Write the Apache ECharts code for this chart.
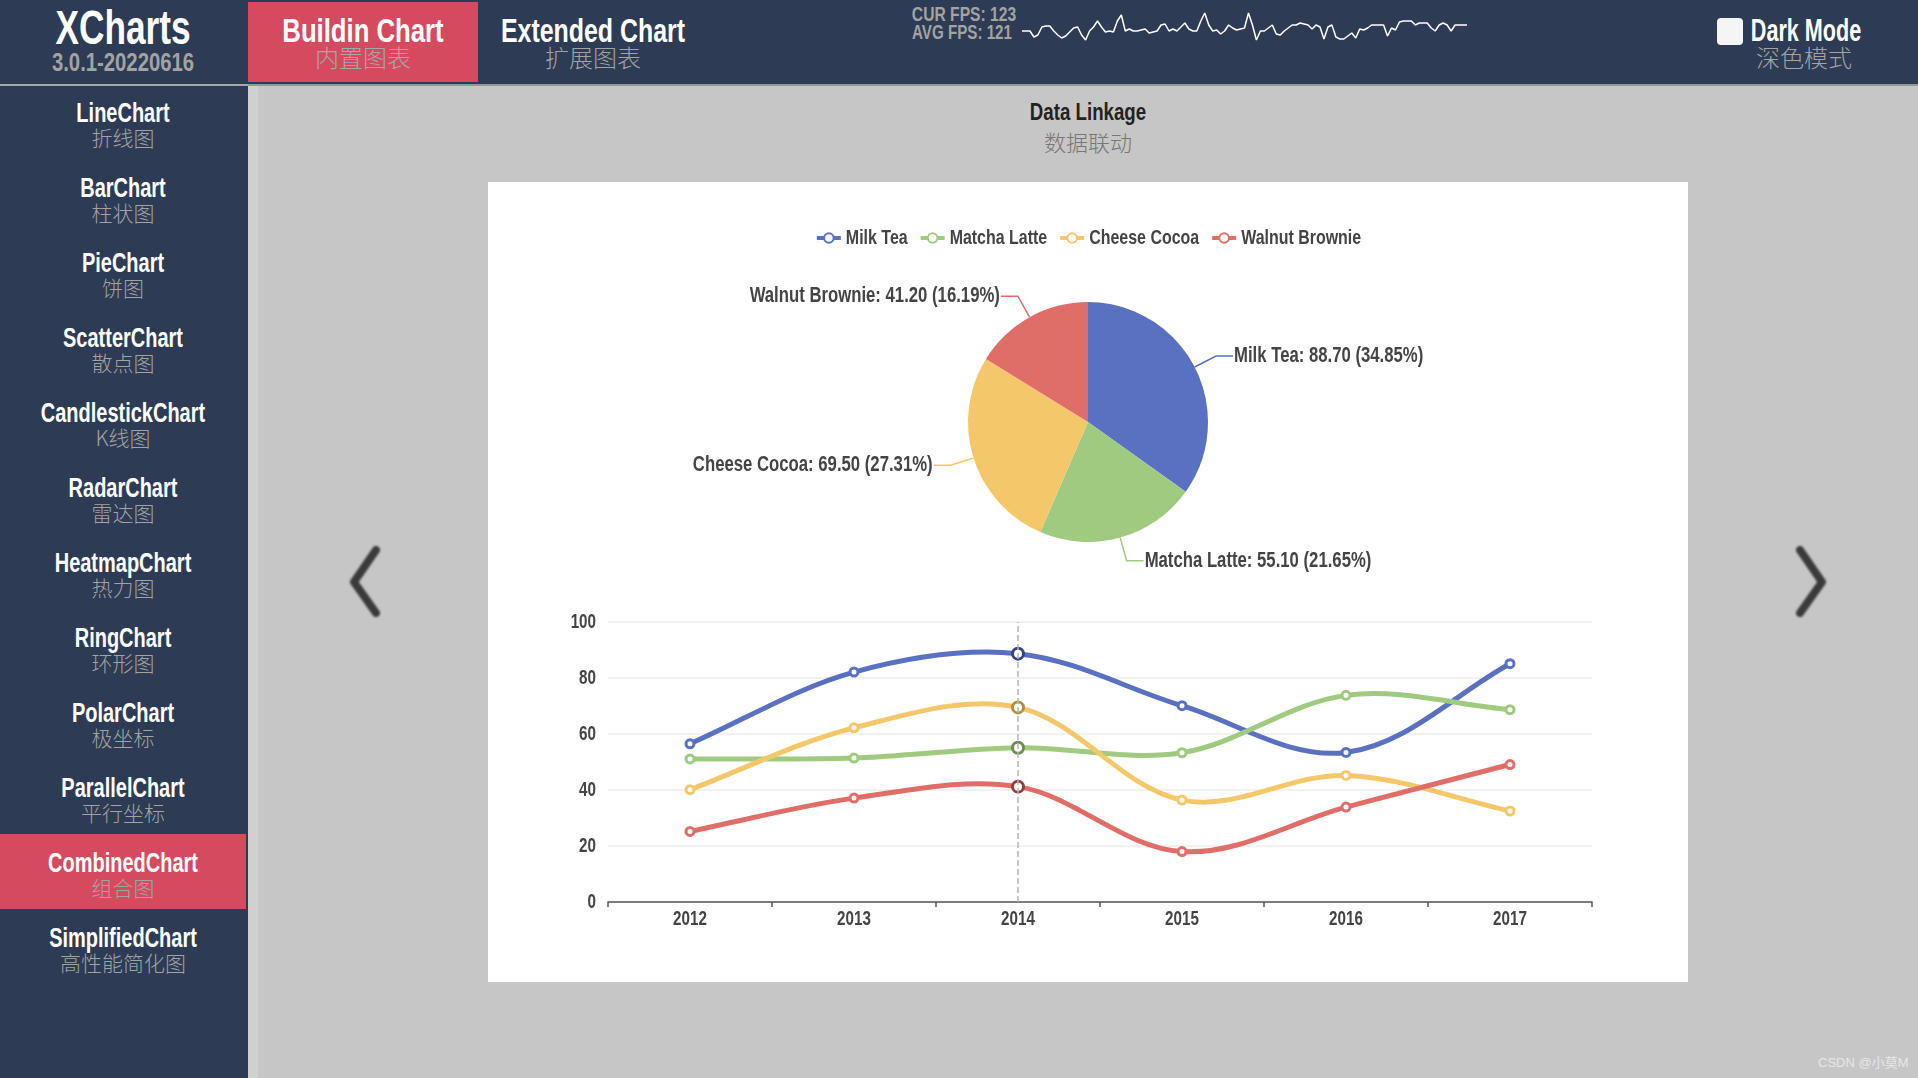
<!DOCTYPE html>
<html>
<head>
<meta charset="utf-8">
<title>XCharts</title>
<script src="https://cdn.jsdelivr.net/npm/echarts@6/dist/echarts.min.js"></script>
<style>
    html, body { margin: 0; padding: 0; width: 1918px; height: 1078px; overflow: hidden; background: #c6c6c6; }
    body { font-family: 'Liberation Sans', 'Noto Sans CJK SC', sans-serif; position: relative; }
    .abs { position: absolute; white-space: nowrap; line-height: 1; }
    .en { color: #fff; text-align: center; font-weight: bold; }
    .cn { color: #a3a3a3; font-family: 'Noto Sans CJK SC', sans-serif; font-weight: 300; text-align: center; }
    #header { position: absolute; left: 0; top: 0; width: 1918px; height: 84px; background: #2d3b54; border-bottom: 2px solid #8f97a5; }
    #logoRule { position: absolute; left: 0; top: 84px; width: 248px; height: 2px; background: #a2a7af; }
    #sidebar { position: absolute; left: 0; top: 86px; width: 248px; height: 992px; background: #2d3b54; }
    #strip { position: absolute; left: 248px; top: 86px; width: 10px; height: 992px; background: #d0d0d0; }
    #activeTab { position: absolute; left: 248px; top: 2px; width: 230px; height: 80px; background: #d64a60; }
    #activeItem { position: absolute; left: 0; top: 834px; width: 246px; height: 75px; background: #d64a60; }
    #panel { position: absolute; left: 488px; top: 182px; width: 1200px; height: 800px; background: #fff; }
    #fpsChart { position: absolute; left: 1022px; top: 8px; width: 445px; height: 40px; }
    #darkBox { position: absolute; left: 1717px; top: 18px; width: 26px; height: 27px; background: #f5f5f5; border-radius: 4px; }
    #mark { position: absolute; left: 1818px; top: 1052px; font: 13px 'Liberation Sans', 'Noto Sans CJK SC', sans-serif; color: #e6e6e6; white-space: nowrap; }
    svg.arrow { position: absolute; top: 530px; width: 60px; height: 100px; filter: blur(0.8px); }
</style>
</head>
<body>
<div id="header"></div>
<div id="logoRule"></div>
<div id="sidebar"></div>
<div id="strip"></div>
<div id="activeTab"></div>
<div id="activeItem"></div>
<div id="panel"></div>
<div id="fpsChart"></div>
<div id="darkBox"></div>
<div id="mark">CSDN @小莫M</div>
<svg class="arrow" style="left:335px" viewBox="0 0 60 100"><polyline points="41,20 19,52 41,83" fill="none" stroke="#3a3a3a" stroke-width="8" stroke-linecap="round" stroke-linejoin="round"/></svg>
<svg class="arrow" style="left:1780px" viewBox="0 0 60 100"><polyline points="20,20 42,52 20,83" fill="none" stroke="#3a3a3a" stroke-width="8" stroke-linecap="round" stroke-linejoin="round"/></svg>

<script>
    var years = ['2012', '2013', '2014', '2015', '2016', '2017'];
    var seriesNames = ['Milk Tea', 'Matcha Latte', 'Cheese Cocoa', 'Walnut Brownie'];
    var milkTea = [56.5, 82.1, 88.7, 70.1, 53.4, 85.1];
    var matchaLatte = [51.1, 51.4, 55.1, 53.3, 73.8, 68.7];
    var cheeseCocoa = [40.1, 62.2, 69.5, 36.4, 45.2, 32.5];
    var walnutBrownie = [25.2, 37.1, 41.2, 18, 33.9, 49.1];
    var linkedYear = '2014';
    var fpsHistory = [117, 117, 117, 111, 113, 121, 122, 122, 117, 113, 110, 112, 116, 120, 121, 113, 108, 117, 121, 127,
        121, 116, 117, 116, 127, 133, 117, 119, 117, 117, 118, 119, 115, 116, 117, 123, 124, 117, 119, 117,
        121, 125, 119, 117, 117, 127, 135, 123, 117, 118, 114, 117, 123, 120, 118, 119, 120, 135, 123, 108,
        117, 117, 120, 123, 114, 113, 117, 120, 123, 123, 125, 124, 123, 119, 123, 121, 109, 121, 123, 111,
        109, 109, 112, 115, 110, 119, 118, 120, 123, 123, 123, 123, 112, 120, 118, 126, 127, 127, 127, 123,
        125, 125, 125, 120, 117, 123, 125, 123, 117, 123, 123, 123, 123];
    var menuItems = [
        ['LineChart', '折线图'], ['BarChart', '柱状图'], ['PieChart', '饼图'], ['ScatterChart', '散点图'],
        ['CandlestickChart', 'K线图'], ['RadarChart', '雷达图'], ['HeatmapChart', '热力图'], ['RingChart', '环形图'],
        ['PolarChart', '极坐标'], ['ParallelChart', '平行坐标'], ['CombinedChart', '组合图'], ['SimplifiedChart', '高性能简化图']
    ];

    var palette = ['#5a71c1', '#a0ca7f', '#f4c86a', '#e06e68'];
    var darkPalette = ['#34457f', '#6a8f50', '#b08f3e', '#963c3c'];
    var textFont = "'Liberation Sans', 'Noto Sans CJK SC', sans-serif";

    // 没有原图的窄字体，这里把canvas上的文字统一压窄
    var textSqueeze = 0.76;
    var canvasProto = CanvasRenderingContext2D.prototype;
    var rawMeasureText = canvasProto.measureText;
    var rawFillText = canvasProto.fillText;
    canvasProto.measureText = function (text) {
        return {width: rawMeasureText.call(this, text).width * textSqueeze};
    };
    canvasProto.fillText = function (text, x, y) {
        this.save();
        this.translate(x, y);
        this.scale(textSqueeze, 1);
        rawFillText.call(this, text, 0, 0);
        this.restore();
    };

    // 页面文字：width是目标宽度，按实际宽度算出水平缩放
    var addText = function (text, cx, top, size, cssClass, color, width) {
        var el = document.createElement('div');
        el.className = 'abs ' + cssClass;
        el.textContent = text;
        el.style.fontSize = size + 'px';
        el.style.top = top + 'px';
        el.style.left = cx + 'px';
        if (color) {
            el.style.color = color;
        }
        document.body.appendChild(el);
        var squeeze = width ? width / el.offsetWidth : 1;
        el.style.transform = 'translateX(-50%) scaleX(' + squeeze + ')';
        return el;
    };

    addText('XCharts', 123, 4, 48, 'en', null, 135);
    addText('3.0.1-20220616', 123, 50, 25, 'en', '#a3a3a3', 142);
    addText('Buildin Chart', 363, 13, 34, 'en', null, 161);
    addText('内置图表', 363, 45, 24, 'cn', '#aaa6a6');
    addText('Extended Chart', 593, 13, 34, 'en', null, 184);
    addText('扩展图表', 593, 45, 24, 'cn');
    addText('CUR FPS: 123', 964, 4, 20, 'en', '#a3a3a3', 104);
    addText('AVG FPS: 121', 962, 22, 20, 'en', '#a3a3a3', 100);
    addText('Dark Mode', 1806, 15, 31, 'en', null, 110);
    addText('深色模式', 1804, 45, 24, 'cn');
    addText('Data Linkage', 1088, 100, 24, 'en', '#222', 116);
    addText('数据联动', 1088, 130, 22, 'cn', '#777');

    menuItems.forEach(function (item, index) {
        var top = 84 + index * 75;
        var el = addText(item[0], 123, top + 16, 27, 'en');
        el.style.transform = 'translateX(-50%) scaleX(0.74)';
        addText(item[1], 123, top + 43, 21, 'cn');
    });

    // 平滑曲线按前后点方向算控制点，可以超过数据点的极值，内置smooth做不到
    var curveSmoothness = 3;
    var buildCurve = function (values, seriesIndex) {
        return {
            type: 'custom',
            silent: true,
            z: 2,
            encode: {x: 0, y: 1},
            data: values.map(function (value, index) {
                return [index, value];
            }),
            renderItem: function (params, api) {
                var i = params.dataIndex;
                if (i >= values.length - 1) {
                    return null;
                }
                var sp = api.coord([i, values[i]]);
                var ep = api.coord([i + 1, values[i + 1]]);
                var lsp = i > 0 ? api.coord([i - 1, values[i - 1]]) : sp;
                var nep = i < values.length - 2 ? api.coord([i + 2, values[i + 2]]) : ep;
                var dist = Math.hypot(ep[0] - sp[0], ep[1] - sp[1]) / curveSmoothness;
                var len1 = Math.hypot(ep[0] - lsp[0], ep[1] - lsp[1]);
                var len2 = Math.hypot(sp[0] - nep[0], sp[1] - nep[1]);
                return {
                    type: 'bezierCurve',
                    shape: {
                        x1: sp[0],
                        y1: sp[1],
                        x2: ep[0],
                        y2: ep[1],
                        cpx1: sp[0] + (ep[0] - lsp[0]) / len1 * dist,
                        cpy1: sp[1] + (ep[1] - lsp[1]) / len1 * dist,
                        cpx2: ep[0] + (sp[0] - nep[0]) / len2 * dist,
                        cpy2: ep[1] + (sp[1] - nep[1]) / len2 * dist
                    },
                    style: {stroke: palette[seriesIndex], fill: null, lineWidth: 5, lineCap: 'round'}
                };
            }
        };
    };

    var buildLine = function (name, values, seriesIndex) {
        return {
            name: name,
            type: 'line',
            z: 3,
            symbol: 'circle',
            symbolSize: 8,
            lineStyle: {width: 0, color: palette[seriesIndex]},
            itemStyle: {color: '#fff', borderColor: palette[seriesIndex], borderWidth: 3},
            data: values.map(function (value, index) {
                if (years[index] !== linkedYear) {
                    return value;
                }
                return {
                    value: value,
                    symbolSize: 11,
                    itemStyle: {color: '#fff', borderColor: darkPalette[seriesIndex], borderWidth: 3}
                };
            })
        };
    };

    var allValues = [milkTea, matchaLatte, cheeseCocoa, walnutBrownie];
    var lineSeries = allValues.map(function (values, index) {
        return buildLine(seriesNames[index], values, index);
    });
    var curveSeries = allValues.map(buildCurve);
    lineSeries[0].markLine = {
        silent: true,
        symbol: 'none',
        label: {show: false},
        lineStyle: {color: '#b5b5b5', type: 'dashed', width: 1.5},
        data: [{xAxis: linkedYear}]
    };

    var yearIndex = years.indexOf(linkedYear);
    var pieData = allValues.map(function (values, index) {
        return {name: seriesNames[index], value: values[yearIndex]};
    });

    var chart = echarts.init(document.getElementById('panel'));
    chart.setOption({
        animation: false,
        color: palette,
        textStyle: {fontFamily: textFont},
        legend: {
            top: 43,
            left: 'center',
            itemWidth: 24,
            itemHeight: 12,
            itemGap: 11,
            data: seriesNames,
            lineStyle: {width: 4, opacity: 1},
            textStyle: {fontSize: 21, color: '#444', fontWeight: 'bold', fontFamily: textFont}
        },
        grid: {left: 120, top: 440, width: 984, height: 280},
        xAxis: {
            type: 'category',
            data: years,
            axisLine: {lineStyle: {color: '#555', width: 1.5}},
            axisTick: {show: true, length: 5, lineStyle: {color: '#555', width: 1.5}},
            axisLabel: {color: '#444', fontSize: 20, fontWeight: 'bold', margin: 10, fontFamily: textFont}
        },
        yAxis: {
            type: 'value',
            min: 0,
            max: 100,
            interval: 20,
            axisLine: {show: false},
            axisTick: {show: false},
            splitLine: {lineStyle: {color: '#eeeeee', width: 1.5}},
            axisLabel: {color: '#444', fontSize: 20, fontWeight: 'bold', margin: 12, fontFamily: textFont}
        },
        series: curveSeries.concat(lineSeries, [{
            type: 'pie',
            center: [600, 240],
            radius: 120,
            startAngle: 90,
            data: pieData,
            label: {
                color: '#444',
                fontSize: 22,
                fontWeight: 'bold',
                fontFamily: textFont,
                distanceToLabelLine: 1,
                formatter: function (params) {
                    return params.name + ': ' + params.value.toFixed(2) + ' (' + params.percent.toFixed(2) + '%)';
                }
            },
            percentPrecision: 2,
            labelLine: {length: 24, length2: 17, lineStyle: {width: 1.5}},
            emphasis: {disabled: true}
        }])
    });

    var fpsChart = echarts.init(document.getElementById('fpsChart'));
    fpsChart.setOption({
        animation: false,
        grid: {left: 0, right: 0, top: 0, bottom: 0},
        xAxis: {type: 'category', boundaryGap: false, show: false, data: fpsHistory.map(function (v, i) { return i; })},
        yAxis: {type: 'value', min: 100, max: 140, interval: 10, show: false},
        series: [{type: 'line', symbol: 'none', lineStyle: {color: '#fff', width: 1.5}, data: fpsHistory}]
    });
</script>
</body>
</html>
